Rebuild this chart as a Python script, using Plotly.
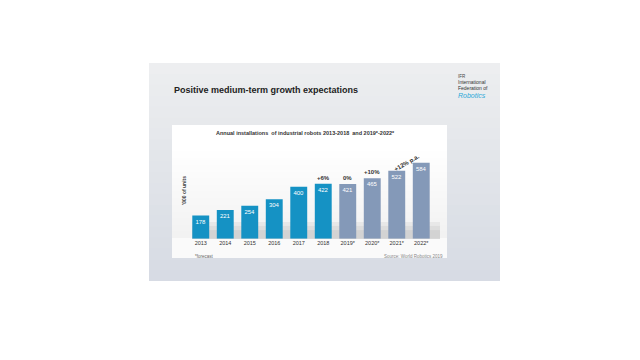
import plotly.graph_objects as go

years = ["2013", "2014", "2015", "2016", "2017", "2018", "2019*", "2020*", "2021*", "2022*"]
installs = [178, 221, 254, 304, 400, 422, 421, 465, 522, 584]
is_forecast = [False] * 6 + [True] * 4
growth_labels = {"2018": "+6%", "2019*": "0%", "2020*": "+10%"}
cagr_label = "+12% p.a."

W, H = 640, 360
OFF = 8  # page body margin offset
def px(x): return (x - OFF) / W
def py(y): return 1 - (y - OFF) / H

blue = "#1592c4"
gray_blue = "#8499b8"
colors = [gray_blue if f else blue for f in is_forecast]

fig = go.Figure()
fig.add_trace(go.Bar(
    x=list(range(len(years))), y=installs, marker=dict(color=colors, line=dict(width=0)),
    width=0.69, text=[str(v) for v in installs], textposition="inside",
    insidetextanchor="end", textfont=dict(color="white", size=6, family="Liberation Sans"),
    cliponaxis=False, hoverinfo="skip",
))

for yr, lab in growth_labels.items():
    i = years.index(yr)
    fig.add_annotation(x=i, y=installs[i], text="<b>" + lab + "</b>", showarrow=False,
                       yanchor="bottom", yshift=1, xref="x", yref="y",
                       font=dict(size=6, color="#333", family="Liberation Sans"))
fig.add_annotation(x=8.4, y=installs[8] + 60, xref="x", yref="y", text="<b>" + cagr_label + "</b>",
                   showarrow=False, textangle=-30,
                   font=dict(size=6, color="#333", family="Liberation Sans"))

shapes = []
slide = (149, 63, 500, 281)
n = 20
for i in range(n):
    y0 = slide[1] + (slide[3] - slide[1]) * i / n
    y1 = slide[1] + (slide[3] - slide[1]) * (i + 1) / n + 1
    t = i / (n - 1)
    r = int(237 - 22 * t)
    g = int(238 - 19 * t)
    b = int(240 - 12 * t)
    shapes.append(dict(type="rect", xref="paper", yref="paper", layer="below",
                       x0=px(slide[0]), x1=px(slide[2]), y0=py(min(y1, slide[3])), y1=py(y0),
                       fillcolor=f"rgb({r},{g},{b})", line=dict(width=0)))
panel = (172, 125, 447, 258)
for i in range(n):
    y0 = panel[1] + (panel[3] - panel[1]) * i / n
    y1 = panel[1] + (panel[3] - panel[1]) * (i + 1) / n + 1
    t = i / (n - 1)
    c = int(255 - 16 * max(0, t - 0.2) / 0.8)
    if t > 0.85:
        c = 250
    shapes.append(dict(type="rect", xref="paper", yref="paper", layer="below",
                       x0=px(panel[0]), x1=px(panel[2]), y0=py(min(y1, panel[3])), y1=py(y0),
                       fillcolor=f"rgb({c},{c},{c})", line=dict(width=0)))
for a, b in [(222, 239), (226, 239), (230, 239)]:
    shapes.append(dict(type="rect", xref="paper", yref="paper", layer="below",
                       x0=px(192), x1=px(440), y0=py(b), y1=py(a),
                       fillcolor="rgba(150,150,150,0.12)", line=dict(width=0)))
fig.update_layout(shapes=shapes)

anns = [
    dict(x=px(172), y=py(90), text="<b>Positive medium-term growth expectations</b>", xanchor="left",
         yanchor="middle", font=dict(size=9, color="#222", family="Liberation Sans")),
    dict(x=px(305), y=py(133), text="<b>Annual installations  of industrial robots 2013-2018  and 2019*-2022*</b>",
         xanchor="center", yanchor="middle", font=dict(size=5.5, color="#333", family="Liberation Sans")),
    dict(x=px(184), y=py(191), text="<b>'000 of units</b>", textangle=-90, xanchor="center", yanchor="middle",
         font=dict(size=5, color="#444", family="Liberation Sans")),
    dict(x=px(193), y=py(256), text="*forecast", xanchor="left", yanchor="middle",
         font=dict(size=4.5, color="#666", family="Liberation Sans")),
    dict(x=px(445), y=py(256), text="Source: World Robotics 2019", xanchor="right", yanchor="middle",
         font=dict(size=4.5, color="#888", family="Liberation Sans")),
    dict(x=px(456), y=py(76), text="IFR", xanchor="left", yanchor="middle",
         font=dict(size=4.5, color="#444", family="Liberation Sans")),
    dict(x=px(456), y=py(82), text="International", xanchor="left", yanchor="middle",
         font=dict(size=5, color="#333", family="Liberation Sans")),
    dict(x=px(456), y=py(88), text="Federation of", xanchor="left", yanchor="middle",
         font=dict(size=5, color="#333", family="Liberation Sans")),
    dict(x=px(456), y=py(95), text="<i>Robotics</i>", xanchor="left", yanchor="middle",
         font=dict(size=7, color="#2aa8d8", family="Liberation Sans")),
]
for a in anns:
    a.update(xref="paper", yref="paper", showarrow=False)
    fig.add_annotation(**a)

fig.update_layout(
    width=W, height=H, margin=dict(l=0, r=0, t=0, b=0),
    paper_bgcolor="white", plot_bgcolor="rgba(0,0,0,0)", showlegend=False,
    xaxis=dict(domain=[px(188.5), px(433.5)], range=[-0.5, 9.5],
               tickmode="array", tickvals=list(range(len(years))), ticktext=years,
               showgrid=False, zeroline=False, showline=False, ticks="",
               tickfont=dict(size=5.5, color="#333", family="Liberation Sans")),
    yaxis=dict(domain=[py(238.7), py(147.7)], range=[0, 700], visible=False),
    uniformtext=dict(minsize=5, mode="show"),
)

fig.write_html("out.html")
